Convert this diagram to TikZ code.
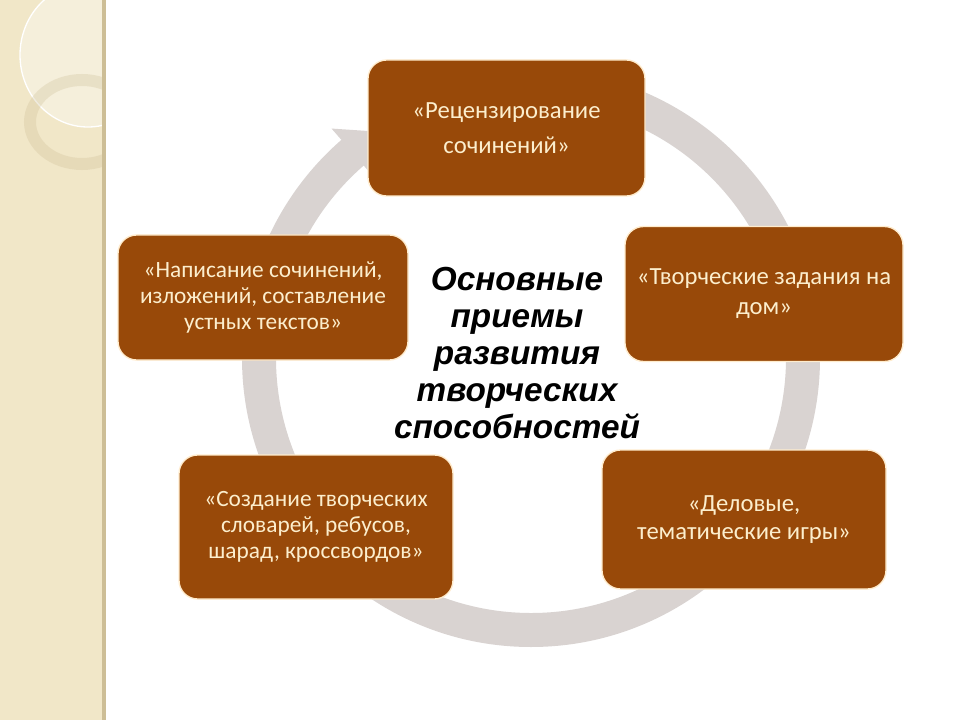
\documentclass[tikz,border=0pt]{standalone}
\usepackage{fontspec}
\setmainfont{Carlito}
\newfontfamily\headfont{Liberation Sans}
\usetikzlibrary{calc}
\definecolor{boxbrown}{RGB}{152,73,9}
\definecolor{boxtext}{RGB}{252,238,205}
\definecolor{boxedge}{RGB}{255,236,205}
\definecolor{ringgray}{RGB}{217,211,209}
\definecolor{stripbeige}{RGB}{241,231,200}
\definecolor{stripedge}{RGB}{205,190,150}

\begin{document}
\begin{tikzpicture}[x=.75pt, y=.75pt,
  box/.style={draw=boxedge, line width=1pt, fill=boxbrown, rounded corners=14pt, align=center, text=boxtext, inner sep=0pt},
  title/.style={align=center, font=\headfont\bfseries\itshape\fontsize{25}{27.75}\selectfont}]
  \useasboundingbox (0,0) rectangle (960,-720);
  \fill[white] (0,0) rectangle (960,-720);
  % left strip
  \begin{scope}
    \clip (0,0) rectangle (105,-720);
    \fill[stripbeige] (0,0) rectangle (105,-720);
    \fill[white, opacity=.35] (88,-55) ellipse (68 and 72);
    \draw[white, line width=1pt] (88,-55) ellipse (68 and 72);
    \draw[stripedge, line width=9pt, opacity=.3] (82,-122) ellipse (52 and 42);
  \end{scope}
  \fill[stripedge] (102,0) rectangle (106,-720);
  % ring
  \coordinate (c) at (531,-358);
  \fill[ringgray] ($(c)+(90:289)$) arc[start angle=90, end angle=-229, radius=289]
    -- ($(c)+(131:304)$) -- ($(c)+(124:273)$) -- ($(c)+(131:240)$)
    -- ($(c)+(131:255)$) arc[start angle=-229, end angle=90, radius=255] -- cycle;

  \node[box, minimum width=277*.75pt, minimum height=136*.75pt, font=\fontsize{18.5}{26.25}\selectfont] (rec) at (506.5,-128) {«Рецензирование\\сочинений»};
  \node[box, minimum width=278*.75pt, minimum height=135*.75pt, font=\fontsize{18.5}{22.5}\selectfont] (dom) at (764,-294) {«Творческие задания на\\дом»};
  \node[box, minimum width=284*.75pt, minimum height=139*.75pt, font=\fontsize{18.5}{20.5}\selectfont] (igry) at (744,-519.5) {«Деловые,\\тематические игры»};
  \node[box, minimum width=274*.75pt, minimum height=144*.75pt, font=\fontsize{17.5}{19.5}\selectfont] (slov) at (316,-527) {«Создание творческих\\словарей, ребусов,\\шарад, кроссвордов»};
  \node[box, minimum width=290*.75pt, minimum height=125*.75pt, font=\fontsize{17.5}{19.5}\selectfont] (pis) at (263,-297.5) {«Написание сочинений,\\изложений, составление\\устных  текстов»};
  \node[title] (main) at (517,-353) {Основные\\приемы\\развития\\творческих\\способностей};
\end{tikzpicture}
\end{document}
